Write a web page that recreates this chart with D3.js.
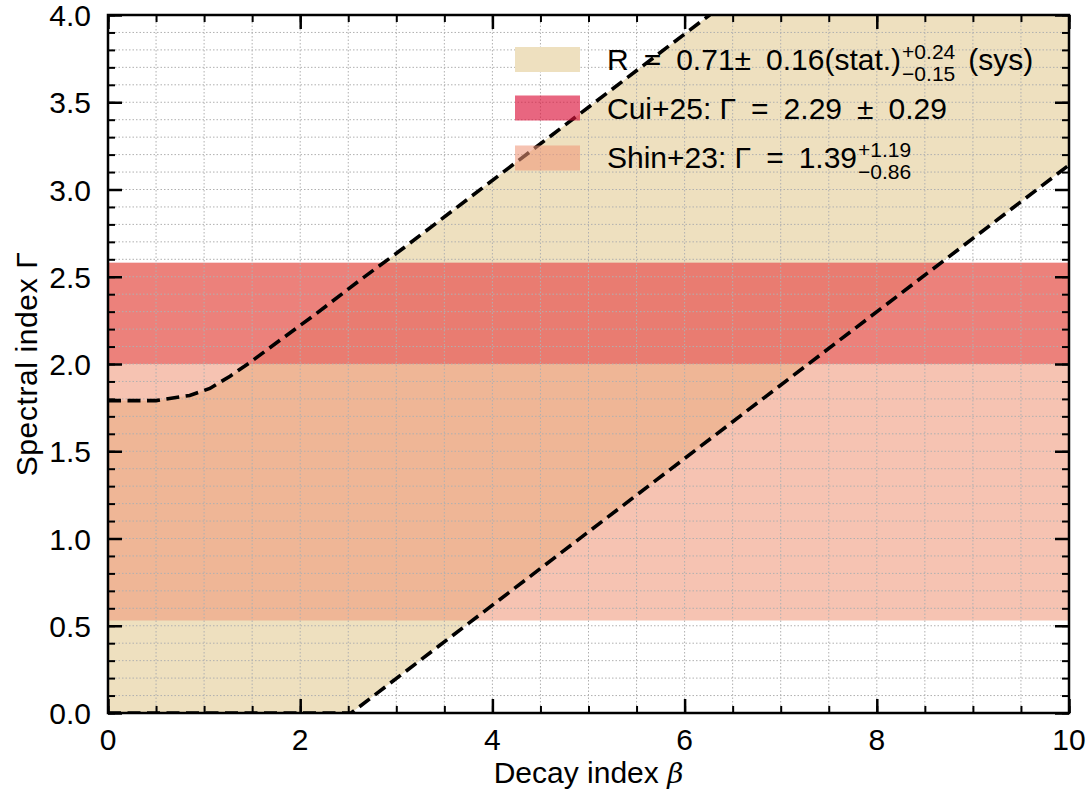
<!DOCTYPE html>
<html>
<head>
<meta charset="utf-8">
<script src="https://cdn.jsdelivr.net/npm/d3@7"></script>
<style>
  body { margin: 0; background: #fff; }
  text { font-family: "Liberation Sans", Arial, sans-serif; fill: #000; }
</style>
</head>
<body>
<div id="chart"></div>
<script>
// data
const upperBeta  = [0, 0.5, 0.85, 1.06, 1.27, 1.48, 1.75, 2.17, 2.62, 3.04, 6.26, 10];
const upperGamma = [1.79, 1.79, 1.82, 1.86, 1.93, 2.01, 2.12, 2.29, 2.48, 2.65, 4.0, 5.57];
const lowerBeta  = [0, 2.53, 10];
const lowerGamma = [0, 0, 3.14];

const cuiBand  = [2.0, 2.58];   // 2.29 +/- 0.29
const shinBand = [0.53, 2.58];  // 1.39 +1.19 -0.86

const legendLabels = ["R\u2002=\u20020.71\u00b1\u20020.16(stat.)", "Cui+25: \u0393\u2002=\u20022.29\u2002\u00b1\u20020.29", "Shin+23: \u0393\u2002=\u20021.39"];
const legendSup = ["+0.24", null, "+1.19"];
const legendSub = ["\u22120.15", null, "\u22120.86"];
const legendTail = ["(sys)", null, null];

const xMajor = [0, 2, 4, 6, 8, 10];
const yMajor = [0, 0.5, 1, 1.5, 2, 2.5, 3, 3.5, 4];

const width = 1091, height = 797;
const margin = { left: 108, right: 22, top: 15, bottom: 84 };

const svg = d3.select("#chart").append("svg")
  .attr("width", width).attr("height", height);

const x = d3.scaleLinear().domain([0, 10]).range([margin.left, width - margin.right]);
const y = d3.scaleLinear().domain([0, 4]).range([height - margin.bottom, margin.top]);

svg.append("clipPath").attr("id", "clip")
  .append("rect")
  .attr("x", x(0)).attr("y", y(4))
  .attr("width", x(10) - x(0)).attr("height", y(0) - y(4));

const plot = svg.append("g").attr("clip-path", "url(#clip)");

// allowed region between the two closure curves
const upper = upperBeta.map((b, i) => [b, upperGamma[i]]);
const lower = lowerBeta.map((b, i) => [b, lowerGamma[i]]);
const region = upper.concat(lower.slice().reverse());
const line = d3.line().x(d => x(d[0])).y(d => y(d[1]));

plot.append("path")
  .attr("d", line(region) + "Z")
  .attr("fill", "rgb(238,224,191)");

plot.append("rect")
  .attr("x", x(0)).attr("width", x(10) - x(0))
  .attr("y", y(cuiBand[1])).attr("height", y(cuiBand[0]) - y(cuiBand[1]))
  .attr("fill", "crimson").attr("fill-opacity", 0.65);

plot.append("rect")
  .attr("x", x(0)).attr("width", x(10) - x(0))
  .attr("y", y(shinBand[1])).attr("height", y(shinBand[0]) - y(shinBand[1]))
  .attr("fill", "rgb(240,150,120)").attr("fill-opacity", 0.57);

// dotted grid at every minor tick
const xGrid = d3.range(0.5, 10, 0.5);
const yGrid = d3.range(1, 40).map(d => d / 10);
plot.selectAll("line.gx").data(xGrid).enter().append("line")
  .attr("x1", d => x(d)).attr("x2", d => x(d))
  .attr("y1", y(0)).attr("y2", y(4))
  .attr("stroke", "#b0b0b0").attr("stroke-width", 1).attr("stroke-dasharray", "1.5,2");
plot.selectAll("line.gy").data(yGrid).enter().append("line")
  .attr("y1", d => y(d)).attr("y2", d => y(d))
  .attr("x1", x(0)).attr("x2", x(10))
  .attr("stroke", "#b0b0b0").attr("stroke-width", 1).attr("stroke-dasharray", "1.5,2");

// dashed curves
[upper, lower].forEach(pts => {
  plot.append("path")
    .attr("d", line(pts))
    .attr("fill", "none")
    .attr("stroke", "#000")
    .attr("stroke-width", 3.6)
    .attr("stroke-dasharray", "13,6.5");
});

// axes with inward ticks on all four sides
const xMinor = d3.range(0, 10.01, 0.5);
const yMinor = d3.range(0, 41).map(d => d / 10);

function drawAxis(gen, transform, sw) {
  const g = svg.append("g").attr("transform", transform).call(gen);
  g.select(".domain").remove();
  g.selectAll(".tick line").attr("stroke", "#000").attr("stroke-width", sw);
  return g;
}
const bottomY = y(0), topY = y(4), leftX = x(0), rightX = x(10);
drawAxis(d3.axisBottom(x).tickValues(xMinor).tickSize(-7).tickFormat(""), `translate(0,${bottomY})`, 2);
drawAxis(d3.axisBottom(x).tickValues(xMajor).tickSize(-14).tickFormat(""), `translate(0,${bottomY})`, 2.5);
drawAxis(d3.axisTop(x).tickValues(xMinor).tickSize(-7).tickFormat(""), `translate(0,${topY})`, 2);
drawAxis(d3.axisTop(x).tickValues(xMajor).tickSize(-14).tickFormat(""), `translate(0,${topY})`, 2.5);
drawAxis(d3.axisLeft(y).tickValues(yMinor).tickSize(-7).tickFormat(""), `translate(${leftX},0)`, 2);
drawAxis(d3.axisLeft(y).tickValues(yMajor).tickSize(-14).tickFormat(""), `translate(${leftX},0)`, 2.5);
drawAxis(d3.axisRight(y).tickValues(yMinor).tickSize(-7).tickFormat(""), `translate(${rightX},0)`, 2);
drawAxis(d3.axisRight(y).tickValues(yMajor).tickSize(-14).tickFormat(""), `translate(${rightX},0)`, 2.5);

svg.append("rect")
  .attr("x", leftX).attr("y", topY)
  .attr("width", rightX - leftX).attr("height", bottomY - topY)
  .attr("fill", "none").attr("stroke", "#000").attr("stroke-width", 2.5);

// tick labels
svg.selectAll("text.xl").data(xMajor).enter().append("text")
  .attr("x", d => x(d)).attr("y", bottomY + 37)
  .attr("text-anchor", "middle").attr("font-size", 30)
  .text(d => d);
svg.selectAll("text.yl").data(yMajor).enter().append("text")
  .attr("x", leftX - 17).attr("y", d => y(d) + 11)
  .attr("text-anchor", "end").attr("font-size", 30)
  .text(d => d.toFixed(1));

// axis titles
const xt = svg.append("text")
  .attr("x", (leftX + rightX) / 2).attr("y", height - 14)
  .attr("text-anchor", "middle").attr("font-size", 30);
xt.append("tspan").text("Decay index ");
xt.append("tspan").attr("font-family", "DejaVu Serif").attr("font-style", "italic")
  .attr("font-size", 28).text("\u03b2");

svg.append("text")
  .attr("transform", `translate(37,${(topY + bottomY) / 2}) rotate(-90)`)
  .attr("text-anchor", "middle").attr("font-size", 30).attr("letter-spacing", 0.6)
  .text("Spectral index \u0393");

// legend
const swatchFill = [
  { c: "rgb(238,224,191)", o: 1 },
  { c: "crimson", o: 0.65 },
  { c: "rgb(240,150,120)", o: 0.57 }
];
const legX = 515;
const legCenters = [59.5, 108, 158];
const legBase = [70, 119, 168];
legendLabels.forEach((lab, i) => {
  const cy = legCenters[i];
  svg.append("rect")
    .attr("x", legX).attr("y", cy - 12.5)
    .attr("width", 65).attr("height", 25)
    .attr("fill", swatchFill[i].c).attr("fill-opacity", swatchFill[i].o);
  const t = svg.append("text")
    .attr("x", 607).attr("y", legBase[i])
    .attr("font-size", 30).text(lab);
  let endX = 607 + t.node().getComputedTextLength();
  if (legendSup[i]) {
    const s1 = svg.append("text").attr("x", endX + 1).attr("y", legBase[i] - 11)
      .attr("font-size", 21).text(legendSup[i]);
    const s2 = svg.append("text").attr("x", endX + 1).attr("y", legBase[i] + 11)
      .attr("font-size", 21).text(legendSub[i]);
    endX += 1 + Math.max(s1.node().getComputedTextLength(), s2.node().getComputedTextLength());
  }
  if (legendTail[i]) {
    svg.append("text").attr("x", endX + 13).attr("y", legBase[i])
      .attr("font-size", 30).text(legendTail[i]);
  }
});
</script>
</body>
</html>
